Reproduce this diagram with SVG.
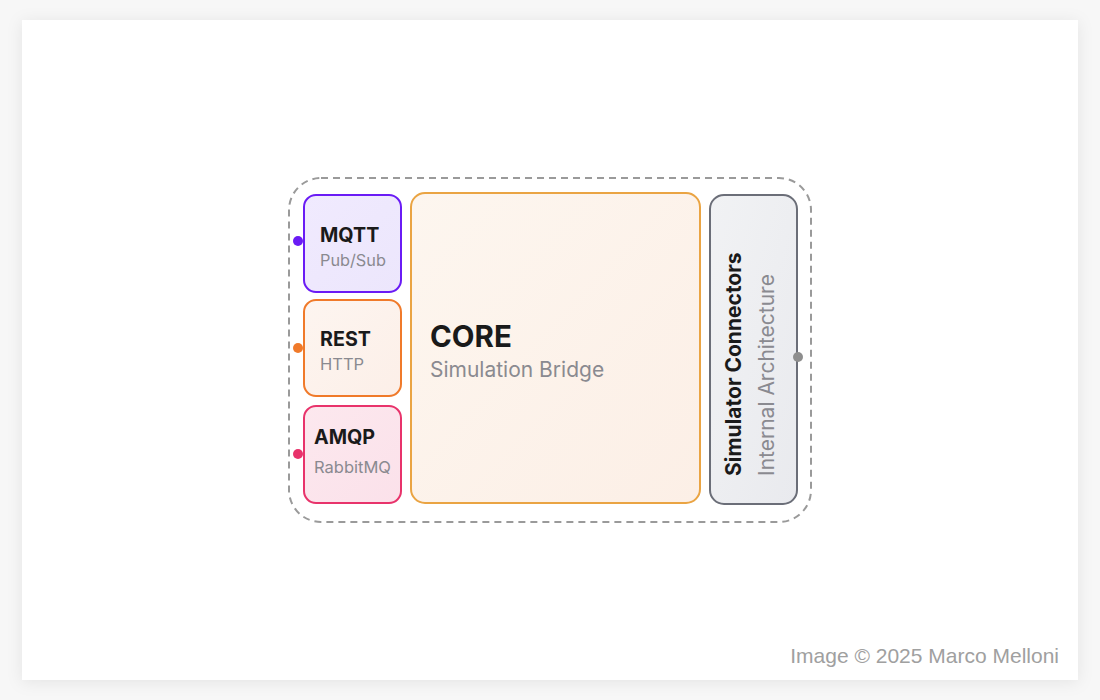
<svg xmlns="http://www.w3.org/2000/svg" width="1100" height="700" viewBox="0 0 1100 700">
<defs>
<filter id="sh" x="-10%" y="-10%" width="120%" height="120%">
<feDropShadow dx="0" dy="2" stdDeviation="8" flood-color="#000" flood-opacity="0.08"/>
</filter>
<linearGradient id="gCore" x1="0" y1="0" x2="1" y2="1">
<stop offset="0" stop-color="#fdf6ef"/><stop offset="1" stop-color="#fcefe6"/>
</linearGradient>
<linearGradient id="gSim" x1="0" y1="0" x2="1" y2="1">
<stop offset="0" stop-color="#f1f2f4"/><stop offset="1" stop-color="#e9eaee"/>
</linearGradient>
<linearGradient id="gMqtt" x1="0" y1="0" x2="1" y2="1">
<stop offset="0" stop-color="#f0eafe"/><stop offset="1" stop-color="#ece6fc"/>
</linearGradient>
<linearGradient id="gRest" x1="0" y1="0" x2="1" y2="1">
<stop offset="0" stop-color="#fdf5f0"/><stop offset="1" stop-color="#fcefe8"/>
</linearGradient>
<linearGradient id="gAmqp" x1="0" y1="0" x2="1" y2="1">
<stop offset="0" stop-color="#fce8ee"/><stop offset="1" stop-color="#fbe1ea"/>
</linearGradient>
</defs>
<style>
.t{font-family:Inter,"Liberation Sans",sans-serif;font-weight:700;fill:#1a1a1a}
.s{font-family:Inter,"Liberation Sans",sans-serif;fill:#8a8a90}
.box{stroke-width:2}
</style>
<rect width="1100" height="700" fill="#f7f7f7"/>
<rect x="22" y="20" width="1056" height="660" fill="#ffffff" filter="url(#sh)"/>
<g id="container">
<rect x="289" y="178" width="522" height="344" rx="32" fill="none" stroke="#9a9a9a" stroke-width="2" stroke-dasharray="7 5"/>
</g>
<g id="mqtt">
<rect class="box" x="304" y="195" width="97" height="97" rx="12" fill="url(#gMqtt)" stroke="#6a1bf5"/>
<text class="t" x="320" y="242" font-size="19.7">MQTT</text>
<text class="s" x="320" y="266" font-size="16.3">Pub/Sub</text>
</g>
<g id="rest">
<rect class="box" x="304" y="300" width="97" height="96" rx="12" fill="url(#gRest)" stroke="#f07a2a"/>
<text class="t" x="320" y="346" font-size="19.7">REST</text>
<text class="s" x="320" y="370" font-size="16.5">HTTP</text>
</g>
<g id="amqp">
<rect class="box" x="304" y="406" width="97" height="97" rx="12" fill="url(#gAmqp)" stroke="#e8336b"/>
<text class="t" x="314" y="444" font-size="19.7">AMQP</text>
<text class="s" x="314" y="473" font-size="16.5">RabbitMQ</text>
</g>
<g id="core">
<rect class="box" x="411" y="193" width="289" height="310" rx="14" fill="url(#gCore)" stroke="#eaa443"/>
<text class="t" x="430" y="347" font-size="29.5">CORE</text>
<text class="s" x="430" y="377" font-size="21">Simulation Bridge</text>
</g>
<g id="simulator">
<rect class="box" x="710" y="195" width="87" height="309" rx="14" fill="url(#gSim)" stroke="#6b6e78"/>
<text class="t" transform="translate(741,476) rotate(-90)" font-size="21">Simulator Connectors</text>
<text class="s" transform="translate(774,476) rotate(-90)" font-size="21">Internal Architecture</text>
</g>
<g id="connectors">
<circle cx="298" cy="241" r="5" fill="#6a1bf5"/>
<circle cx="298" cy="348" r="5" fill="#f07a2a"/>
<circle cx="298" cy="454" r="5" fill="#e8336b"/>
<circle cx="798" cy="357" r="5" fill="#8e8e8e"/>
</g>
<text x="1059" y="663" text-anchor="end" font-family="'Liberation Sans',Arial,sans-serif" font-size="21" fill="#a0a0a0">Image © 2025 Marco Melloni</text>
</svg>
